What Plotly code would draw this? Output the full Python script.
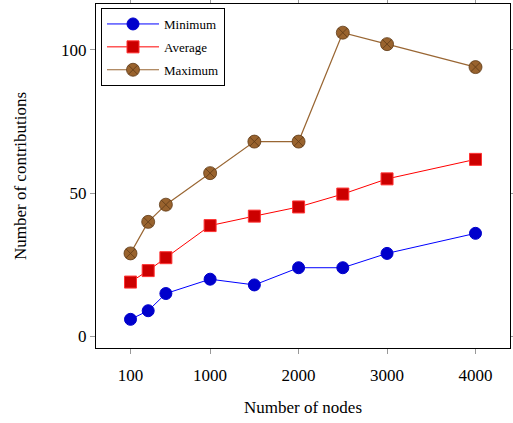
import plotly.graph_objects as go

nodes = [100, 300, 500, 1000, 1500, 2000, 2500, 3000, 4000]
minimum = [6, 9, 15, 20, 18, 24, 24, 29, 36]
average = [19, 23, 27.5, 38.7, 42, 45.2, 49.7, 55, 61.8]
maximum = [29, 40, 46, 57, 68, 68, 106, 102, 94]
x_ticks = [100, 1000, 2000, 3000, 4000]
y_ticks = [0, 50, 100]

FONT = "Liberation Serif"
W, H = 513, 423
ML, MR, MT, MB = 96, 3, 4, 75

fig = go.Figure()
fig.add_trace(go.Scatter(
    x=nodes, y=minimum, name="Minimum", mode="lines+markers", legendgroup="a",
    line=dict(color="#0000ff", width=1),
    marker=dict(symbol="circle", size=12, color="#0000cc", line=dict(color="#0000cc", width=1)),
))
fig.add_trace(go.Scatter(
    x=nodes, y=average, name="Average", mode="lines+markers", legendgroup="b",
    line=dict(color="#ff0000", width=1),
    marker=dict(symbol="square", size=12, color="#cc0000", line=dict(color="#ff3333", width=1)),
))
fig.add_trace(go.Scatter(
    x=nodes, y=maximum, name="Maximum", mode="lines+markers", legendgroup="c",
    line=dict(color="#996633", width=1.2),
    marker=dict(symbol="circle-x", size=13, color="#99632e", line=dict(color="#5e3a17", width=0.8)),
))

plot_w = W - ML - MR
plot_h = H - MT - MB

fig.update_layout(
    width=W, height=H,
    margin=dict(l=ML, r=MR, t=MT, b=MB),
    paper_bgcolor="white", plot_bgcolor="white",
    font=dict(family=FONT, size=17, color="black"),
    showlegend=True,
    legend=dict(
        x=(101 - ML) / plot_w, y=1 - (8 - MT) / plot_h, xanchor="left", yanchor="top",
        bordercolor="black", borderwidth=1, bgcolor="white",
        font=dict(family=FONT, size=13),
        itemwidth=52, tracegroupgap=3,
    ),
    annotations=[
        dict(text="Number of nodes", x=0.5, y=(H - MB - 407) / plot_h, xref="paper", yref="paper",
             xanchor="center", yanchor="middle",
             showarrow=False, font=dict(family=FONT, size=17)),
        dict(text="Number of contributions", x=(20 - ML) / plot_w, y=0.5, xref="paper", yref="paper",
             xanchor="center", yanchor="middle",
             showarrow=False, textangle=-90, font=dict(family=FONT, size=17)),
    ],
)

fig.update_xaxes(
    range=[-290, 4390], tickvals=x_ticks, ticktext=[str(v) for v in x_ticks],
    showgrid=False, zeroline=False, automargin=False,
    showline=True, linecolor="black", linewidth=1.3, mirror="ticks",
    ticks="outside", ticklen=5, tickcolor="#999999", tickwidth=1,
    ticklabelstandoff=6,
    tickfont=dict(family=FONT, size=17),
)
fig.update_yaxes(
    range=[-4, 116], tickvals=y_ticks, ticktext=[str(v) for v in y_ticks],
    showgrid=False, zeroline=False, automargin=False,
    showline=True, linecolor="black", linewidth=1.3, mirror="ticks",
    ticks="outside", ticklen=5, tickcolor="#999999", tickwidth=1,
    tickfont=dict(family=FONT, size=17),
)

fig.write_html("out.html", config={"displayModeBar": False},
               post_script="document.body.style.margin='0';")
